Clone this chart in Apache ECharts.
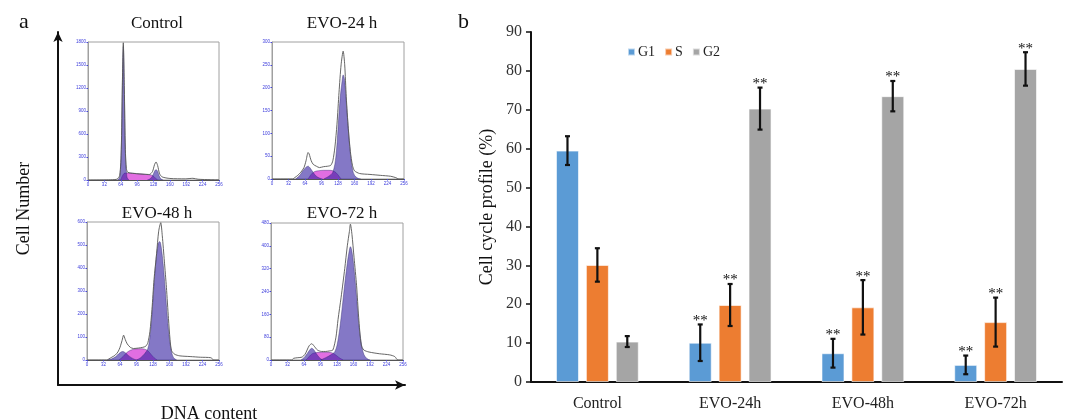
<!DOCTYPE html>
<html>
<head>
<meta charset="utf-8">
<script src="https://cdn.jsdelivr.net/npm/echarts@6/dist/echarts.min.js"></script>
<style>
  html, body { margin: 0; padding: 0; background: #fff; }
  #chart { width: 1067px; height: 420px; }
</style>
</head>
<body>
<div id="chart"></div>
<script>
// ---- Panel b: cell-cycle distribution (%) ----
const categories = ['Control', 'EVO-24h', 'EVO-48h', 'EVO-72h'];
const g1Mean = [59.5, 10.1, 7.4, 4.4];
const g1Err  = [3.7, 4.7, 3.7, 2.4];
const sMean  = [30.1, 19.8, 19.2, 15.4];
const sErr   = [4.3, 5.4, 7.0, 6.3];
const g2Mean = [10.4, 70.3, 73.5, 80.5];
const g2Err  = [1.4, 5.4, 3.9, 4.3];
const significant = [0, 1, 1, 1];
const percentTicks = [0, 90, 10];

// ---- Panel a: DNA content histograms, [channel, count] ----
const histTitles = ['Control', 'EVO-24 h', 'EVO-48 h', 'EVO-72 h'];
const histYMax = [1800, 300, 600, 480];

const ctrlTotal = [[0,0],[40,2],[56,10],[62,60],[65,400],[67,1200],[69,1790],[71,1200],[73,400],[75,150],[78,100],[90,85],[110,75],[120,72],[126,110],[130,200],[133,235],[136,190],[140,80],[145,40],[160,20],[190,15],[205,22],[215,10],[240,4],[256,2]];
const ctrlG1 = [[58,0],[62,40],[65,380],[67,1150],[69,1740],[71,1150],[73,380],[76,40],[80,0]];
const ctrlS  = [[64,0],[67,50],[72,90],[80,92],[100,80],[118,70],[126,60],[132,22],[136,0]];
const ctrlG2 = [[116,0],[122,18],[127,65],[130,115],[133,135],[136,115],[139,55],[143,12],[147,0]];

const h24Total = [[0,0],[40,0],[44,3],[50,8],[56,15],[62,25],[66,40],[70,58],[72,55],[76,40],[80,32],[86,28],[92,25],[100,27],[108,28],[114,30],[118,40],[122,70],[126,120],[130,190],[134,250],[138,280],[141,250],[144,180],[148,110],[152,60],[156,30],[160,18],[170,12],[190,10],[210,8],[230,6],[240,3],[246,0],[256,0]];
const h24G1 = [[46,0],[54,8],[60,18],[66,26],[70,28],[74,24],[80,14],[86,6],[92,2],[98,0]];
const h24S  = [[70,0],[76,10],[82,16],[90,18],[100,19],[110,19],[118,18],[124,14],[130,6],[134,0]];
const h24G2 = [[100,0],[110,6],[118,15],[124,50],[128,110],[132,175],[136,215],[138,228],[141,215],[144,170],[148,110],[152,55],[156,22],[160,8],[166,2],[172,0]];

const h48Total = [[0,0],[38,0],[42,4],[48,12],[54,20],[60,35],[64,55],[68,85],[71,108],[74,90],[78,70],[84,55],[90,50],[100,52],[108,55],[114,60],[118,75],[122,123],[126,220],[130,350],[135,463],[139,560],[143,597],[146,540],[150,430],[154,316],[158,180],[161,90],[164,41],[170,25],[180,18],[200,15],[220,12],[240,10],[246,0],[256,0]];
const h48G1 = [[40,0],[48,5],[56,15],[62,28],[66,35],[69,37],[74,32],[80,20],[86,10],[92,3],[98,0]];
const h48S  = [[62,0],[70,15],[76,30],[84,42],[94,48],[104,49],[112,47],[118,40],[124,25],[130,10],[136,0]];
const h48G2 = [[96,0],[104,10],[112,28],[118,50],[122,100],[126,200],[130,330],[134,440],[138,505],[141,515],[144,490],[148,410],[152,300],[156,180],[160,90],[164,35],[168,10],[174,0]];

const h72Total = [[0,0],[40,0],[44,6],[52,8],[60,10],[66,20],[70,35],[74,50],[79,57],[84,48],[90,35],[98,30],[106,30],[114,32],[120,35],[126,80],[130,142],[136,220],[143,320],[148,400],[152,450],[154,476],[157,440],[161,360],[166,260],[170,150],[175,53],[180,35],[190,28],[210,22],[230,18],[240,12],[246,0],[256,0]];
const h72G1 = [[58,0],[64,8],[70,22],[75,35],[79,41],[83,36],[88,22],[94,8],[100,0]];
const h72S  = [[68,0],[74,12],[80,22],[88,26],[98,27],[108,27],[116,26],[122,22],[128,14],[134,6],[140,0]];
const h72G2 = [[96,0],[106,8],[116,18],[124,30],[130,70],[136,150],[142,250],[148,340],[152,385],[154,397],[157,380],[161,320],[166,220],[170,130],[175,60],[180,20],[186,5],[192,0]];

const histSets = [
  { total: ctrlTotal, g1: ctrlG1, s: ctrlS, g2: ctrlG2 },
  { total: h24Total,  g1: h24G1,  s: h24S,  g2: h24G2 },
  { total: h48Total,  g1: h48G1,  s: h48S,  g2: h48G2 },
  { total: h72Total,  g1: h72G1,  s: h72S,  g2: h72G2 }
];

const SERIF = '"Liberation Serif", "Times New Roman", serif';
const BAR_W = 23;
const BAR_GAP = 0.3;
const COLORS = ['#5b9bd5', '#ed7d31', '#a5a5a5'];

// layout boxes of the four histograms
const histBoxes = [
  { left: 88,  top: 42,  width: 131, height: 138 },
  { left: 272, top: 42,  width: 132, height: 137 },
  { left: 87,  top: 222, width: 132, height: 138 },
  { left: 271, top: 223, width: 132, height: 137 }
];
const titlePos = [[152, 10], [337, 10], [152, 200], [337, 200]];

const grids = [];
const xAxes = [];
const yAxes = [];
const series = [];
const titles = [];

histBoxes.forEach((b, i) => {
  grids.push(Object.assign({ show: true, borderColor: '#a0a0a0', borderWidth: 1, containLabel: false }, b));
  xAxes.push({
    type: 'value', gridIndex: i, min: 0, max: 256, interval: 32,
    axisLine: { show: true, lineStyle: { color: '#555', width: 1.2 } },
    axisTick: { show: true, length: 1.5, lineStyle: { color: '#4444dd' } },
    axisLabel: { fontSize: 4.5, color: '#3c3cdc', margin: 2, hideOverlap: false },
    splitLine: { show: false }
  });
  yAxes.push({
    type: 'value', gridIndex: i, min: 0, max: histYMax[i], interval: histYMax[i] / 6,
    axisLine: { show: true, lineStyle: { color: '#a0a0a0', width: 1 } },
    axisTick: { show: true, length: 1.5, lineStyle: { color: '#4444dd' } },
    axisLabel: { fontSize: 4.5, color: '#3c3cdc', margin: 2, formatter: (v) => String(v) },
    splitLine: { show: false }
  });
  titles.push({
    text: histTitles[i], left: titlePos[i][0], top: titlePos[i][1], textAlign: 'center',
    textStyle: { fontFamily: SERIF, fontSize: 17, fontWeight: 'normal', color: '#111' }
  });
  const h = histSets[i];
  const fillLine = (name, data, color, z) => ({
    name: name, type: 'line', xAxisIndex: i, yAxisIndex: i, data: data,
    smooth: 0.35, showSymbol: false, silent: true, z: z,
    lineStyle: { width: 0.6, color: 'rgba(50,40,110,0.7)' },
    areaStyle: { color: color, opacity: 1 }
  });
  series.push(fillLine('hist' + i + '-S', h.s, '#e26ee2', 2));
  series.push(fillLine('hist' + i + '-G1', h.g1, 'rgba(50,30,160,0.6)', 3));
  series.push(fillLine('hist' + i + '-G2', h.g2, 'rgba(50,30,160,0.6)', 3));
  series.push({
    name: 'hist' + i + '-total', type: 'line', xAxisIndex: i, yAxisIndex: i, data: h.total,
    smooth: 0.25, showSymbol: false, silent: true, z: 4,
    lineStyle: { width: 0.9, color: '#555' }
  });
});

// Large arrowed axes framing panel a
grids.push({ left: 58, top: 32, width: 347, height: 353, show: false });
xAxes.push({
  type: 'value', gridIndex: 4, min: 0, max: 1,
  axisLine: { show: true, symbol: ['none', 'arrow'], symbolSize: [7, 10], lineStyle: { color: '#111', width: 2 } },
  axisTick: { show: false }, axisLabel: { show: false }, splitLine: { show: false }
});
yAxes.push({
  type: 'value', gridIndex: 4, min: 0, max: 1,
  name: 'Cell Number', nameLocation: 'middle', nameGap: 25,
  nameTextStyle: { fontFamily: SERIF, fontSize: 18, color: '#111' },
  axisLine: { show: true, symbol: ['none', 'arrow'], symbolSize: [7, 10], lineStyle: { color: '#111', width: 2 } },
  axisTick: { show: false }, axisLabel: { show: false }, splitLine: { show: false }
});
titles.push({
  text: 'DNA content', left: 204, top: 400, textAlign: 'center',
  textStyle: { fontFamily: SERIF, fontSize: 18, fontWeight: 'normal', color: '#111' }
});

// Panel b bar chart
grids.push({ left: 531, top: 32, right: 5, bottom: 38 });
xAxes.push({
  type: 'category', gridIndex: 5, data: categories,
  axisLine: { lineStyle: { color: '#111', width: 2 } },
  axisTick: { show: false },
  axisLabel: { fontFamily: SERIF, fontSize: 16, color: '#222', margin: 14 }
});
yAxes.push({
  type: 'value', gridIndex: 5, min: percentTicks[0], max: percentTicks[1], interval: percentTicks[2],
  name: 'Cell cycle profile (%)', nameLocation: 'middle', nameGap: 35,
  nameTextStyle: { fontFamily: SERIF, fontSize: 18, color: '#111' },
  axisLine: { show: true, lineStyle: { color: '#111', width: 2 } },
  axisTick: { show: true, length: 5, lineStyle: { color: '#111', width: 1.5 } },
  axisLabel: { fontFamily: SERIF, fontSize: 16, color: '#333', margin: 9 },
  splitLine: { show: false }
});

const barGroups = [
  { name: 'G1', mean: g1Mean, err: g1Err },
  { name: 'S',  mean: sMean,  err: sErr },
  { name: 'G2', mean: g2Mean, err: g2Err }
];

barGroups.forEach((g, k) => {
  series.push({
    name: g.name, type: 'bar', xAxisIndex: 5, yAxisIndex: 5,
    data: g.mean, barWidth: BAR_W, barGap: (BAR_GAP * 100) + '%',
    itemStyle: { color: COLORS[k], borderColor: 'rgba(255,255,255,0.6)', borderWidth: 1 },
    z: 2
  });
});

barGroups.forEach((g, k) => {
  const step = BAR_W * (1 + BAR_GAP);
  series.push({
    name: g.name + ' error', type: 'custom', xAxisIndex: 5, yAxisIndex: 5, z: 5, silent: true,
    data: g.mean.map((m, i) => [i, m, g.err[i], significant[i]]),
    encode: { x: 0, y: 1 },
    renderItem: function (params, api) {
      const ci = api.value(0), m = api.value(1), e = api.value(2), star = api.value(3);
      const x = api.coord([ci, m])[0] + (k - 1) * step;
      const yTop = api.coord([ci, m + e])[1];
      const yBot = api.coord([ci, m - e])[1];
      const st = { stroke: '#111', lineWidth: 2.2 };
      const children = [
        { type: 'line', shape: { x1: x, y1: yTop, x2: x, y2: yBot }, style: st },
        { type: 'line', shape: { x1: x - 2.5, y1: yTop, x2: x + 2.5, y2: yTop }, style: st },
        { type: 'line', shape: { x1: x - 2.5, y1: yBot, x2: x + 2.5, y2: yBot }, style: st }
      ];
      if (star) {
        children.push({
          type: 'text',
          style: { text: '**', x: x, y: yTop + 4, align: 'center', verticalAlign: 'bottom',
                   font: '15px ' + SERIF, fill: '#111' }
        });
      }
      return { type: 'group', children: children };
    }
  });
});

titles.push({ text: 'a', left: 14, top: 6, textStyle: { fontFamily: SERIF, fontSize: 22, fontWeight: 'normal', color: '#111' } });
titles.push({ text: 'b', left: 453, top: 6, textStyle: { fontFamily: SERIF, fontSize: 22, fontWeight: 'normal', color: '#111' } });

const chart = echarts.init(document.getElementById('chart'), null, { renderer: 'canvas' });
chart.setOption({
  animation: false,
  backgroundColor: '#fff',
  title: titles,
  legend: {
    data: ['G1', 'S', 'G2'], left: 622, top: 40, icon: 'rect', itemWidth: 7, itemHeight: 7, itemGap: 9,
    textStyle: { fontFamily: SERIF, fontSize: 14, color: '#222', padding: [0, 0, 0, -2] }
  },
  grid: grids,
  xAxis: xAxes,
  yAxis: yAxes,
  series: series
});
</script>
</body>
</html>
